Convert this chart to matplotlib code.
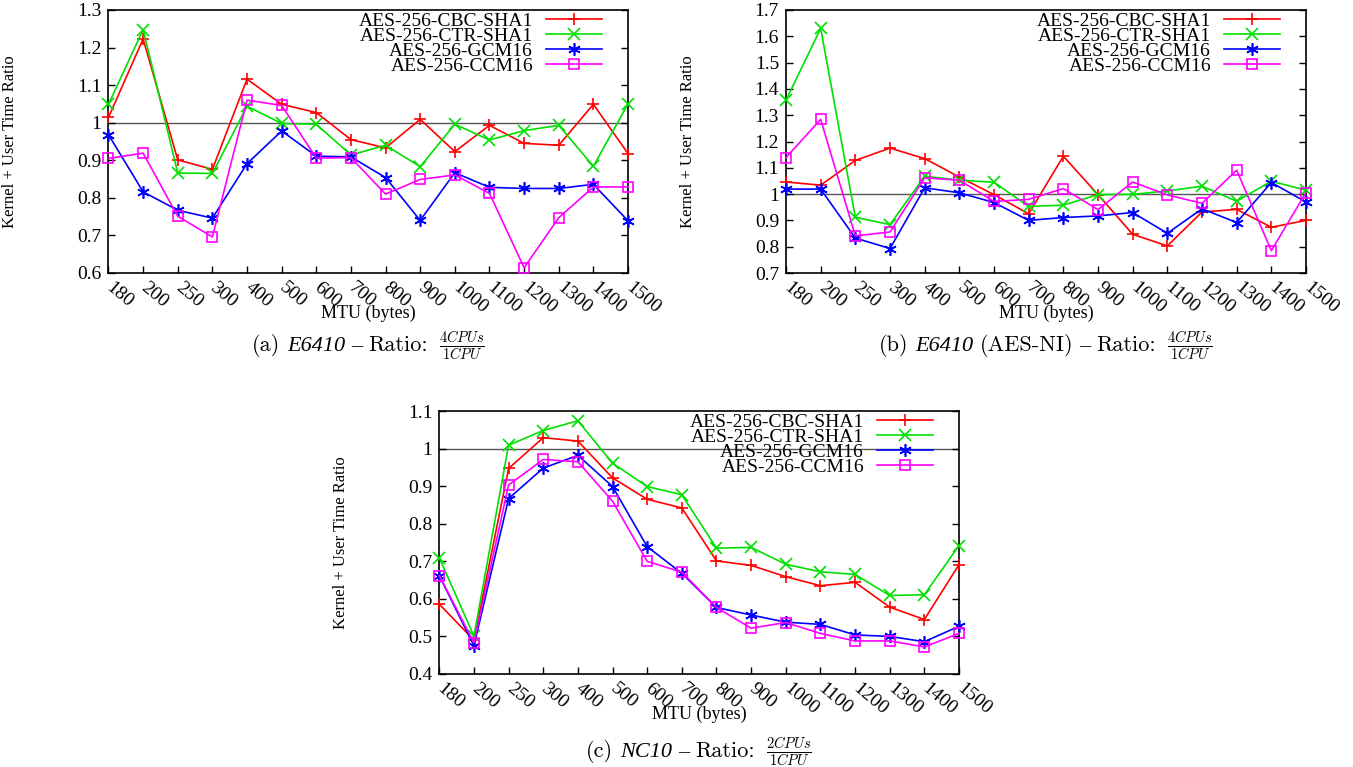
import matplotlib
matplotlib.use("Agg")
import matplotlib.pyplot as plt

plt.rcParams['font.family'] = ['Liberation Serif', 'DejaVu Serif']
plt.rcParams['mathtext.fontset'] = 'cm'

mtu = ["180", "200", "250", "300", "400", "500", "600", "700", "800", "900",
       "1000", "1100", "1200", "1300", "1400", "1500"]
series_names = ["AES-256-CBC-SHA1", "AES-256-CTR-SHA1", "AES-256-GCM16", "AES-256-CCM16"]

a_cbc = [1.014, 1.223, 0.901, 0.876, 1.116, 1.049, 1.027, 0.955, 0.933, 1.009, 0.923, 0.993, 0.945, 0.940, 1.049, 0.918]
a_ctr = [1.049, 1.248, 0.866, 0.865, 1.044, 0.998, 0.996, 0.914, 0.940, 0.883, 0.996, 0.954, 0.979, 0.993, 0.884, 1.050]
a_gcm = [0.968, 0.816, 0.767, 0.746, 0.891, 0.978, 0.911, 0.909, 0.854, 0.740, 0.867, 0.828, 0.825, 0.825, 0.836, 0.739]
a_ccm = [0.905, 0.919, 0.751, 0.696, 1.060, 1.046, 0.906, 0.907, 0.810, 0.849, 0.861, 0.812, 0.614, 0.747, 0.829, 0.829]

b_cbc = [1.046, 1.034, 1.128, 1.175, 1.135, 1.065, 0.998, 0.925, 1.144, 0.998, 0.847, 0.803, 0.932, 0.942, 0.874, 0.900]
b_ctr = [1.357, 1.630, 0.912, 0.884, 1.068, 1.053, 1.045, 0.953, 0.958, 0.998, 0.999, 1.012, 1.030, 0.973, 1.049, 1.015]
b_gcm = [1.019, 1.019, 0.833, 0.793, 1.024, 1.005, 0.968, 0.900, 0.911, 0.917, 0.930, 0.851, 0.944, 0.892, 1.044, 0.970]
b_ccm = [1.139, 1.284, 0.841, 0.856, 1.062, 1.053, 0.972, 0.980, 1.021, 0.941, 1.046, 0.997, 0.965, 1.091, 0.785, 1.006]

c_cbc = [0.586, 0.490, 0.947, 1.029, 1.020, 0.922, 0.865, 0.842, 0.701, 0.689, 0.659, 0.635, 0.644, 0.578, 0.545, 0.691]
c_ctr = [0.709, 0.501, 1.009, 1.048, 1.074, 0.961, 0.899, 0.877, 0.735, 0.737, 0.692, 0.672, 0.665, 0.609, 0.611, 0.742]
c_gcm = [0.662, 0.475, 0.867, 0.948, 0.982, 0.899, 0.739, 0.668, 0.577, 0.557, 0.538, 0.532, 0.504, 0.500, 0.486, 0.527]
c_ccm = [0.662, 0.483, 0.903, 0.971, 0.965, 0.860, 0.700, 0.671, 0.577, 0.522, 0.537, 0.508, 0.488, 0.488, 0.472, 0.508]

yticks_a = [0.6, 0.7, 0.8, 0.9, 1.0, 1.1, 1.2, 1.3]
yticks_b = [0.7, 0.8, 0.9, 1.0, 1.1, 1.2, 1.3, 1.4, 1.5, 1.6, 1.7]
yticks_c = [0.4, 0.5, 0.6, 0.7, 0.8, 0.9, 1.0, 1.1]
ylabels_a = ["0.6", "0.7", "0.8", "0.9", "1", "1.1", "1.2", "1.3"]
ylabels_b = ["0.7", "0.8", "0.9", "1", "1.1", "1.2", "1.3", "1.4", "1.5", "1.6", "1.7"]
ylabels_c = ["0.4", "0.5", "0.6", "0.7", "0.8", "0.9", "1", "1.1"]

CM = ["cmr10", "Liberation Serif"]
LS = ["Liberation Serif", "DejaVu Serif"]
captions = [
    [("(a)", "normal", CM, 7, 16), ("E6410", "italic", LS, 6, 16), ("–", "normal", LS, 6, 16),
     ("Ratio:", "normal", CM, 11, 16), (r"$\frac{4CPUs}{1CPU}$", "normal", CM, 0, 15)],
    [("(b)", "normal", CM, 7, 16), ("E6410", "italic", LS, 6, 16), ("(AES-NI)", "normal", CM, 6, 16),
     ("–", "normal", LS, 6, 16), ("Ratio:", "normal", CM, 11, 16), (r"$\frac{4CPUs}{1CPU}$", "normal", CM, 0, 15)],
    [("(c)", "normal", CM, 7, 16), ("NC10", "italic", LS, 6, 16), ("–", "normal", LS, 6, 16),
     ("Ratio:", "normal", CM, 11, 16), (r"$\frac{2CPUs}{1CPU}$", "normal", CM, 0, 15)],
]
caption_baseline = [351, 351, 757]

colors = ["#ff0000", "#00e000", "#0000ff", "#ff00ff"]
markers = ["+", "x", (6, 2, 0), "s"]

W, H = 1353, 767
fig = plt.figure(figsize=(W / 100, H / 100), dpi=100)

def rect(l, t, r, b):
    return [l / W, 1 - b / H, (r - l) / W, (b - t) / H]

panels = [
    (rect(108.5, 10, 628, 273), [a_cbc, a_ctr, a_gcm, a_ccm], yticks_a, ylabels_a),
    (rect(786, 10, 1306, 273), [b_cbc, b_ctr, b_gcm, b_ccm], yticks_b, ylabels_b),
    (rect(439.3, 411, 959, 674), [c_cbc, c_ctr, c_gcm, c_ccm], yticks_c, ylabels_c),
]

renderer = fig.canvas.get_renderer()

x = list(range(len(mtu)))
for i, (r, data, yt, ytl) in enumerate(panels):
    ax = fig.add_axes(r)
    ax.axhline(1.0, color="#555555", lw=1.0, zorder=1)
    for s, name in enumerate(series_names):
        mfc = "none" if markers[s] == "s" else colors[s]
        ax.plot(x, data[s], color=colors[s], lw=1.2, marker=markers[s],
                markersize=9 if markers[s] != "s" else 7.5, markeredgewidth=1.2,
                markerfacecolor=mfc, markeredgecolor=colors[s], label=name,
                clip_on=False, zorder=3)
    ax.set_xlim(0, len(mtu) - 1)
    ax.set_ylim(yt[0], yt[-1])
    ax.set_yticks(yt)
    ax.set_yticklabels(ytl)
    ax.set_xticks(x)
    ax.set_xticklabels(mtu, rotation=-40, ha="left", va="center", rotation_mode="anchor")
    ax.tick_params(direction="in", length=5, width=1, top=False, right=True,
                   labelsize=14, pad=5)
    ax.tick_params(axis="x", pad=9)
    for sp in ax.spines.values():
        sp.set_linewidth(1.2)
    wpx = r[2] * W
    hpx = r[3] * H
    ax.set_ylabel("Kernel + User Time Ratio", fontsize=12)
    ax.yaxis.set_label_coords(-90 / wpx, 0.5)
    ax.set_xlabel("MTU (bytes)", fontsize=13)
    ax.xaxis.set_label_coords(0.5, -40 / hpx)
    ax.xaxis.label.set_va("center")
    ax.legend(loc="upper right", bbox_to_anchor=(1 - 26 / wpx, 1.0 - 2 / hpx),
              frameon=False, markerfirst=False, fontsize=14,
              handlelength=2.9, handletextpad=0.65, labelspacing=-0.13,
              borderpad=0.0, borderaxespad=0.0)

    # caption, assembled from pieces laid out left to right
    cx = (r[0] + r[2] / 2) * W
    by = 1 - caption_baseline[i] / H
    texts, widths, gaps = [], [], []
    for s, style, fam, gap, fs in captions[i]:
        t = fig.text(0, by, s, ha="left", va="baseline", fontsize=fs,
                     family=fam, style=style)
        texts.append(t)
        widths.append(t.get_window_extent(renderer).width)
        gaps.append(gap)
    total = sum(widths) + sum(gaps[:-1])
    xp = cx - total / 2
    for t, w, g in zip(texts, widths, gaps):
        t.set_x(xp / W)
        xp += w + g

fig.savefig("out.png", dpi=100)
